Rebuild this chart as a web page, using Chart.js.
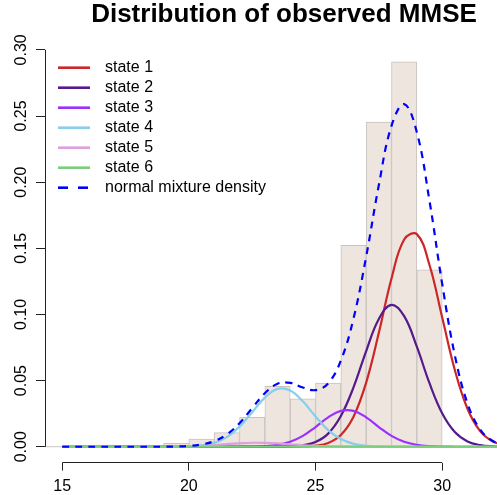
<!DOCTYPE html>
<html>
<head>
<meta charset="utf-8">
<script src="https://cdn.jsdelivr.net/npm/chart.js@4.4.0/dist/chart.umd.min.js"></script>
<style>
  html, body { margin: 0; padding: 0; background: #fff; }
  #wrap { width: 497px; height: 495px; }
</style>
</head>
<body>
<div id="wrap"><canvas id="chart"></canvas></div>
<script>
// ===== data =====
const TITLE = "Distribution of observed MMSE";

// histogram: bins of width 1 (centre) and density
const binCenters = [14.5, 15.5, 16.5, 17.5, 18.5, 19.5, 20.5, 21.5, 22.5, 23.5, 24.5, 25.5, 26.5, 27.5, 28.5, 29.5];
const binDensity = [0, 0, 0.0013, 0.0013, 0.0013, 0.0026, 0.0057, 0.0106, 0.0222, 0.0457, 0.0363, 0.0482, 0.1523, 0.2454, 0.2910, 0.1337];

// x positions where the curves were read
const curveX = [15, 15.5, 16, 16.5, 17, 17.5, 18, 18.5, 19, 19.5, 20, 20.5, 21, 21.5, 22, 22.5, 23, 23.5,
                24, 24.5, 25, 25.5, 26, 26.5, 27, 27.5, 28, 28.5, 29, 29.5, 30, 30.5, 31, 31.5, 32, 32.5];

const state1 = [0, 0, 0, 0, 0, 0, 0, 0, 0, 0, 0, 0, 0, 0, 0, 0, 0, 0,
                0, 0.0002, 0.0008, 0.0029, 0.0089, 0.0227, 0.0485, 0.0861, 0.1272, 0.1566, 0.1607, 0.1374, 0.0978, 0.0580, 0.0287, 0.0118, 0.0040, 0.0012];
const state2 = [0, 0, 0, 0, 0, 0, 0, 0, 0, 0, 0, 0, 0, 0, 0, 0, 0, 0.0001,
                0.0003, 0.0011, 0.0035, 0.0099, 0.0232, 0.0449, 0.0723, 0.0966, 0.1072, 0.0987, 0.0756, 0.0480, 0.0253, 0.0111, 0.0040, 0.0012, 0.0003, 0.0001];
const state3 = [0, 0, 0, 0, 0, 0, 0, 0, 0, 0, 0, 0, 0, 0, 0, 0.0001, 0.0004, 0.0014,
                0.0037, 0.0082, 0.0149, 0.0222, 0.0271, 0.0271, 0.0222, 0.0149, 0.0082, 0.0037, 0.0014, 0.0004, 0.0001, 0, 0, 0, 0, 0];
const state4 = [0, 0, 0, 0, 0, 0, 0, 0, 0, 0.0001, 0.0003, 0.0010, 0.0029, 0.0073, 0.0152, 0.0261, 0.0371, 0.0437,
                0.0425, 0.0343, 0.0229, 0.0126, 0.0058, 0.0022, 0.0007, 0.0002, 0, 0, 0, 0, 0, 0, 0, 0, 0, 0];
const state5 = [0, 0, 0, 0, 0, 0, 0, 0, 0.0001, 0.0001, 0.0004, 0.0007, 0.0013, 0.0020, 0.0026, 0.0030, 0.0029, 0.0025,
                0.0018, 0.0011, 0.0006, 0.0003, 0.0001, 0, 0, 0, 0, 0, 0, 0, 0, 0, 0, 0, 0, 0];
const state6 = [0, 0, 0, 0, 0, 0, 0, 0, 0, 0, 0, 0, 0, 0, 0, 0, 0, 0,
                0, 0, 0, 0, 0, 0, 0, 0, 0, 0, 0, 0, 0, 0, 0, 0, 0, 0];
const mixture = [0, 0, 0, 0, 0, 0, 0, 0, 0, 0.0002, 0.0006, 0.0017, 0.0042, 0.0093, 0.0178, 0.0292, 0.0404, 0.0476,
                 0.0483, 0.0448, 0.0428, 0.0479, 0.0651, 0.0969, 0.1437, 0.1978, 0.2426, 0.2590, 0.2377, 0.1858, 0.1232, 0.0691, 0.0327, 0.0130, 0.0043, 0.0013];

const seriesNames = ["state 1", "state 2", "state 3", "state 4", "state 5", "state 6", "normal mixture density"];
const seriesValues = [state1, state2, state3, state4, state5, state6, mixture];

const xTicks = [15, 20, 25, 30];
const yTicks = [0, 0.05, 0.10, 0.15, 0.20, 0.25, 0.30];

// ===== styles =====
const COLORS = ["#CD2626", "#551A8B", "#9B30FF", "#87CEEB", "#DDA0DD", "#7CCD7C", "#0000FF"];
const DASHED = [false, false, false, false, false, false, true];
const FONT = '"Liberation Sans", Arial, Helvetica, sans-serif';
const BAR_FILL = "#EEE5DE";
const BAR_LINE = "#C8C3BF";

const datasets = [];
datasets.push({
  type: "bar",
  label: "hist",
  data: binCenters.map((x, i) => ({ x, y: binDensity[i] })),
  backgroundColor: BAR_FILL,
  borderColor: BAR_LINE,
  borderWidth: 1,
  borderSkipped: false,
  barPercentage: 1,
  categoryPercentage: 1,
  order: 30
});
// bottom edge of the histogram cells (also visible where a cell is empty)
datasets.push({
  type: "line",
  label: "hist base",
  data: [{ x: binCenters[0] - 0.5, y: 0 }, { x: binCenters[binCenters.length - 1] + 0.5, y: 0 }],
  borderColor: BAR_LINE,
  borderWidth: 1,
  pointRadius: 0,
  order: 29
});
seriesValues.forEach((vals, i) => {
  datasets.push({
    type: "line",
    label: seriesNames[i],
    data: curveX.map((x, j) => ({ x, y: vals[j] })),
    borderColor: COLORS[i],
    borderWidth: 2.2,
    borderDash: DASHED[i] ? [7, 6] : [],
    pointRadius: 0,
    tension: 0.4,
    fill: false,
    order: 10 - i
  });
});

// R style decorations: partial axis lines, rotated y labels, title, legend
const rDecor = {
  id: "rDecor",
  afterDraw(chart) {
    const { ctx, chartArea, scales } = chart;
    const xs = scales.x, ys = scales.y;
    ctx.save();
    ctx.strokeStyle = "#222";
    ctx.lineWidth = 1;

    const by = Math.floor(chartArea.bottom) + 0.5;
    ctx.beginPath();
    ctx.moveTo(xs.getPixelForValue(xTicks[0]), by);
    ctx.lineTo(xs.getPixelForValue(xTicks[xTicks.length - 1]), by);
    ctx.stroke();

    const lx = Math.floor(chartArea.left) + 0.5;
    ctx.beginPath();
    ctx.moveTo(lx, ys.getPixelForValue(yTicks[0]));
    ctx.lineTo(lx, ys.getPixelForValue(yTicks[yTicks.length - 1]));
    ctx.stroke();

    ctx.fillStyle = "#000";
    ctx.font = "16px " + FONT;
    ctx.textAlign = "center";
    ctx.textBaseline = "alphabetic";
    yTicks.forEach((v) => {
      ctx.save();
      ctx.translate(25.5, ys.getPixelForValue(v));
      ctx.rotate(-Math.PI / 2);
      ctx.fillText(v.toFixed(2), 0, 0);
      ctx.restore();
    });

    ctx.font = "bold 26px " + FONT;
    ctx.fillText(TITLE, 284, 22);

    ctx.font = "16px " + FONT;
    ctx.textAlign = "left";
    ctx.textBaseline = "middle";
    seriesNames.forEach((name, i) => {
      const y = 67.7 + 20 * i;
      ctx.strokeStyle = COLORS[i];
      ctx.lineWidth = 2.6;
      ctx.setLineDash(DASHED[i] ? [10, 10] : []);
      ctx.beginPath();
      ctx.moveTo(58, y);
      ctx.lineTo(90, y);
      ctx.stroke();
      ctx.fillText(name, 105, y);
    });
    ctx.restore();
  }
};

new Chart(document.getElementById("chart"), {
  type: "bar",
  data: { datasets },
  options: {
    animation: false,
    responsive: true,
    maintainAspectRatio: false,
    layout: { padding: { top: 34, left: 0, right: 0, bottom: 0 } },
    plugins: {
      legend: { display: false },
      tooltip: { enabled: false },
      title: { display: false }
    },
    scales: {
      x: {
        type: "linear",
        min: 14.32,
        max: 32.165,
        offset: false,
        grid: { offset: false, drawOnChartArea: false, drawTicks: true, tickLength: 8, color: "#222" },
        border: { display: false },
        ticks: { font: { size: 16, family: FONT }, color: "#000", padding: 6, maxRotation: 0, autoSkip: false },
        afterBuildTicks: (s) => { s.ticks = xTicks.map((v) => ({ value: v })); },
        afterFit: (s) => { s.height = 32.4; }
      },
      y: {
        type: "linear",
        min: -0.012,
        max: 0.312,
        grid: { drawOnChartArea: false, drawTicks: true, tickLength: 9, color: "#222" },
        border: { display: false },
        ticks: { display: false },
        afterBuildTicks: (s) => { s.ticks = yTicks.map((v) => ({ value: v })); },
        afterFit: (s) => { s.width = 45; }
      }
    }
  },
  plugins: [rDecor]
});
</script>
</body>
</html>
